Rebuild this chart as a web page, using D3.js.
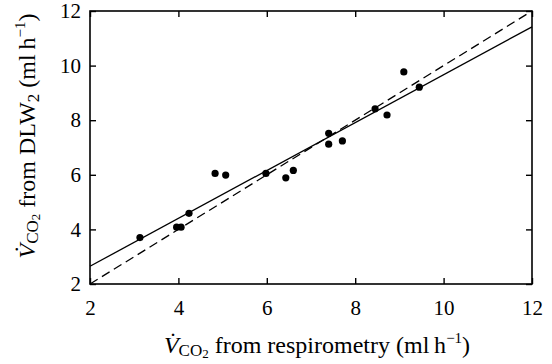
<!DOCTYPE html>
<html>
<head>
<meta charset="utf-8">
<script src="https://cdn.jsdelivr.net/npm/d3@7"></script>
<style>
  body { margin: 0; background: #fff; }
  text { font-family: "Liberation Serif", "Times New Roman", serif; fill: #000; }
</style>
</head>
<body>
<svg width="552" height="364"></svg>
<script>
// values
var respX = [3.13, 3.96, 4.06, 4.24, 4.83, 5.07, 5.98, 6.43, 6.60, 7.40, 7.40, 7.71, 8.45, 8.72, 9.10, 9.45];
var dlwY  = [3.70, 4.08, 4.08, 4.59, 6.05, 5.99, 6.05, 5.89, 6.16, 7.52, 7.12, 7.24, 8.42, 8.19, 9.77, 9.21];
var fitLine = [[2, 2.65], [12, 11.42]];   // regression (solid)
var unityLine = [[2, 2], [12, 12]];       // line of identity (dashed)
var tickValues = [2, 4, 6, 8, 10, 12];

var svg = d3.select("svg"),
    margin = {top: 11, right: 20, bottom: 80, left: 90},
    width = 532 - margin.left,
    height = 284 - margin.top;

var x = d3.scaleLinear().domain([2, 12]).range([0, width]),
    y = d3.scaleLinear().domain([2, 12]).range([height, 0]);

var g = svg.append("g")
    .attr("transform", "translate(" + margin.left + "," + margin.top + ")");

// axes, ticks pointing inwards
var xAxis = d3.axisBottom(x).tickValues(tickValues).tickSizeInner(-6).tickSizeOuter(0).tickPadding(16),
    yAxis = d3.axisLeft(y).tickValues(tickValues).tickSizeInner(-6).tickSizeOuter(0).tickPadding(9),
    xTop = d3.axisTop(x).tickValues(tickValues).tickSizeInner(-6).tickSizeOuter(0).tickFormat(""),
    yRight = d3.axisRight(y).tickValues(tickValues).tickSizeInner(-6).tickSizeOuter(0).tickFormat("");

function styleAxis(sel) {
  sel.select(".domain").remove();
  sel.selectAll("line").attr("stroke", "#000").attr("stroke-width", 1.4);
  sel.selectAll("text").style("font-family", "'Liberation Serif', serif").style("font-size", "21px").attr("fill", "#000");
}

g.append("g").attr("transform", "translate(0," + height + ")").call(xAxis).call(styleAxis);
g.append("g").call(yAxis).call(styleAxis);
g.append("g").call(xTop).call(styleAxis);
g.append("g").attr("transform", "translate(" + width + ",0)").call(yRight).call(styleAxis);

// frame
g.append("rect")
    .attr("width", width)
    .attr("height", height)
    .attr("fill", "none")
    .attr("stroke", "#000")
    .attr("stroke-width", 1.6);

var line = d3.line()
    .x(function(d) { return x(d[0]); })
    .y(function(d) { return y(d[1]); });

g.append("path")
    .datum(unityLine)
    .attr("d", line)
    .attr("fill", "none")
    .attr("stroke", "#000")
    .attr("stroke-width", 1.3)
    .attr("stroke-dasharray", "9,5");

g.append("path")
    .datum(fitLine)
    .attr("d", line)
    .attr("fill", "none")
    .attr("stroke", "#000")
    .attr("stroke-width", 1.3);

// points
g.selectAll("circle.pt")
    .data(respX)
    .enter().append("circle")
    .attr("class", "pt")
    .attr("cx", function(d) { return x(d); })
    .attr("cy", function(d, i) { return y(dlwY[i]); })
    .attr("r", 3.6)
    .attr("fill", "#000");

// axis titles
function vco2(t) {
  t.append("tspan").style("font-style", "italic").text("V\u0307");
  t.append("tspan").style("font-size", "17px").attr("dy", 3).text("CO");
  t.append("tspan").style("font-size", "13px").attr("dy", 2).text("2");
}

var xt = svg.append("text")
    .attr("x", 317)
    .attr("y", 353)
    .attr("text-anchor", "middle")
    .style("font-size", "24px");
vco2(xt);
xt.append("tspan").attr("dy", -5).text(" from respirometry (ml\u2009h");
xt.append("tspan").style("font-size", "15px").attr("dy", -10).text("\u22121");
xt.append("tspan").attr("dy", 10).text(")");

var yt = svg.append("text")
    .attr("transform", "translate(35,136) rotate(-90)")
    .attr("text-anchor", "middle")
    .style("font-size", "24px");
vco2(yt);
yt.append("tspan").attr("dy", -5).text(" from DLW");
yt.append("tspan").style("font-size", "17px").attr("dy", 4).text("2");
yt.append("tspan").attr("dy", -4).text(" (ml\u2009h");
yt.append("tspan").style("font-size", "15px").attr("dy", -10).text("\u22121");
yt.append("tspan").attr("dy", 10).text(")");
</script>
</body>
</html>
